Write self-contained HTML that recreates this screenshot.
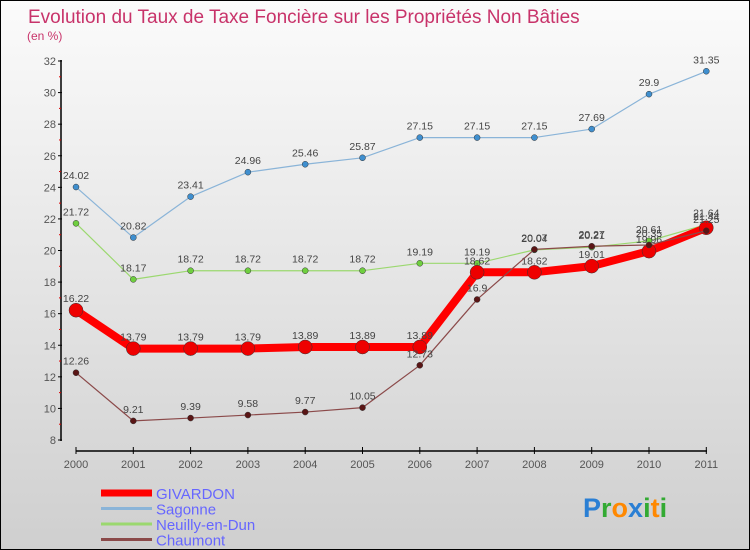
<!DOCTYPE html>
<html><head><meta charset="utf-8"><style>
body{margin:0;}
#wrap{width:748px;height:548px;border:1px solid #000;background:linear-gradient(#fbfbfb,#cfcfcf);position:relative;font-family:"Liberation Sans",sans-serif;overflow:hidden}
</style></head><body>
<div id="wrap">
<svg id="chart" width="748" height="548" style="position:absolute;left:0;top:0"></svg>
</div>
<script>
const years=["2000","2001","2002","2003","2004","2005","2006","2007","2008","2009","2010","2011"];
const givardon=[16.22,13.79,13.79,13.79,13.89,13.89,13.89,18.62,18.62,19.01,19.96,21.44];
const sagonne=[24.02,20.82,23.41,24.96,25.46,25.87,27.15,27.15,27.15,27.69,29.9,31.35];
const neuilly=[21.72,18.17,18.72,18.72,18.72,18.72,19.19,19.19,20.04,20.21,20.61,21.64];
const chaumont=[12.26,9.21,9.39,9.58,9.77,10.05,12.73,16.9,20.07,20.27,20.35,21.25];
const yTicks=[8,10,12,14,16,18,20,22,24,26,28,30,32];
const NS="http://www.w3.org/2000/svg";
const svg=document.getElementById('chart');
function el(t,a,p){const e=document.createElementNS(NS,t);for(const k in a)e.setAttribute(k,a[k]);(p||svg).appendChild(e);return e;}
const xS=i=>75+i*57.3;
const yS=v=>439-(v-8)*(379/24);
let t=el('text',{x:27,y:22,'font-size':19,fill:'#c8336a'});t.textContent='Evolution du Taux de Taxe Foncière sur les Propriétés Non Bâties';

t=el('text',{x:26,y:39,'font-size':12,fill:'#c8336a'});t.textContent='(en %)';

let a=el('line',{x1:60,y1:59,x2:60,y2:440,stroke:'#000','stroke-width':1.5});

a=el('line',{x1:75,y1:450,x2:706,y2:450,stroke:'#000','stroke-width':1.5});

yTicks.forEach(v=>{
 el('line',{x1:57,y1:yS(v),x2:61,y2:yS(v),stroke:'#000'});
 if(v<32)el('line',{x1:58,y1:yS(v+1),x2:60,y2:yS(v+1),stroke:'#d00'});
 const l=el('text',{x:55,y:yS(v)+4,'font-size':11,fill:'#555','text-anchor':'end'});l.textContent=v;
 
});
years.forEach((y,i)=>{
 el('line',{x1:xS(i),y1:446,x2:xS(i),y2:453,stroke:'#000'});
 const l=el('text',{x:xS(i),y:467,'font-size':11,fill:'#555','text-anchor':'middle'});l.textContent=y;
 
});
function series(name,data,color,w,r,dot){
 const g=el('g',{});
 
 el('polyline',{points:data.map((v,i)=>xS(i)+','+yS(v)).join(' '),fill:'none',stroke:color,'stroke-width':w,'stroke-linejoin':'round'},g);
 data.forEach((v,i)=>{
  const c=el('circle',{cx:xS(i),cy:yS(v),r:r,fill:dot,stroke:'#333','stroke-width':0.5},g);
  
  const l=el('text',{x:xS(i),y:yS(v)-8,'font-size':10.5,fill:'#444','text-anchor':'middle'},g);l.textContent=v;
 });
}
series('sagonne',sagonne,'#8ab4d8',1.2,3,'#3f8fcf');
series('neuilly',neuilly,'#9bd86f',1.2,3,'#6fcf3f');
series('givardon',givardon,'#f00',8,7,'#e00');
series('chaumont',chaumont,'#8b4a4a',1.2,3,'#5a1515');
const leg=[['GIVARDON','#f00',7],['Sagonne','#8ab4d8',3],['Neuilly-en-Dun','#9bd86f',3],['Chaumont','#8b4a4a',3]];
leg.forEach((d,i)=>{
 const y=492+i*15.5;
 const g=el('g',{});
 el('line',{x1:100,y1:y,x2:151,y2:y,stroke:d[1],'stroke-width':d[2]},g);
 const l=el('text',{x:155,y:y+6,'font-size':15,fill:'#66f'},g);l.textContent=d[0];
});
const lg=el('text',{x:582,y:516,'font-size':27,'font-weight':'bold'});

[['P','#2a7fd4'],['r','#3a3'],['o','#f80'],['x','#2a7fd4'],['i','#3a3'],['t','#f80'],['i','#3a3']].forEach(c=>{const s=el('tspan',{fill:c[1]},lg);s.textContent=c[0];});
</script>
</body></html>
